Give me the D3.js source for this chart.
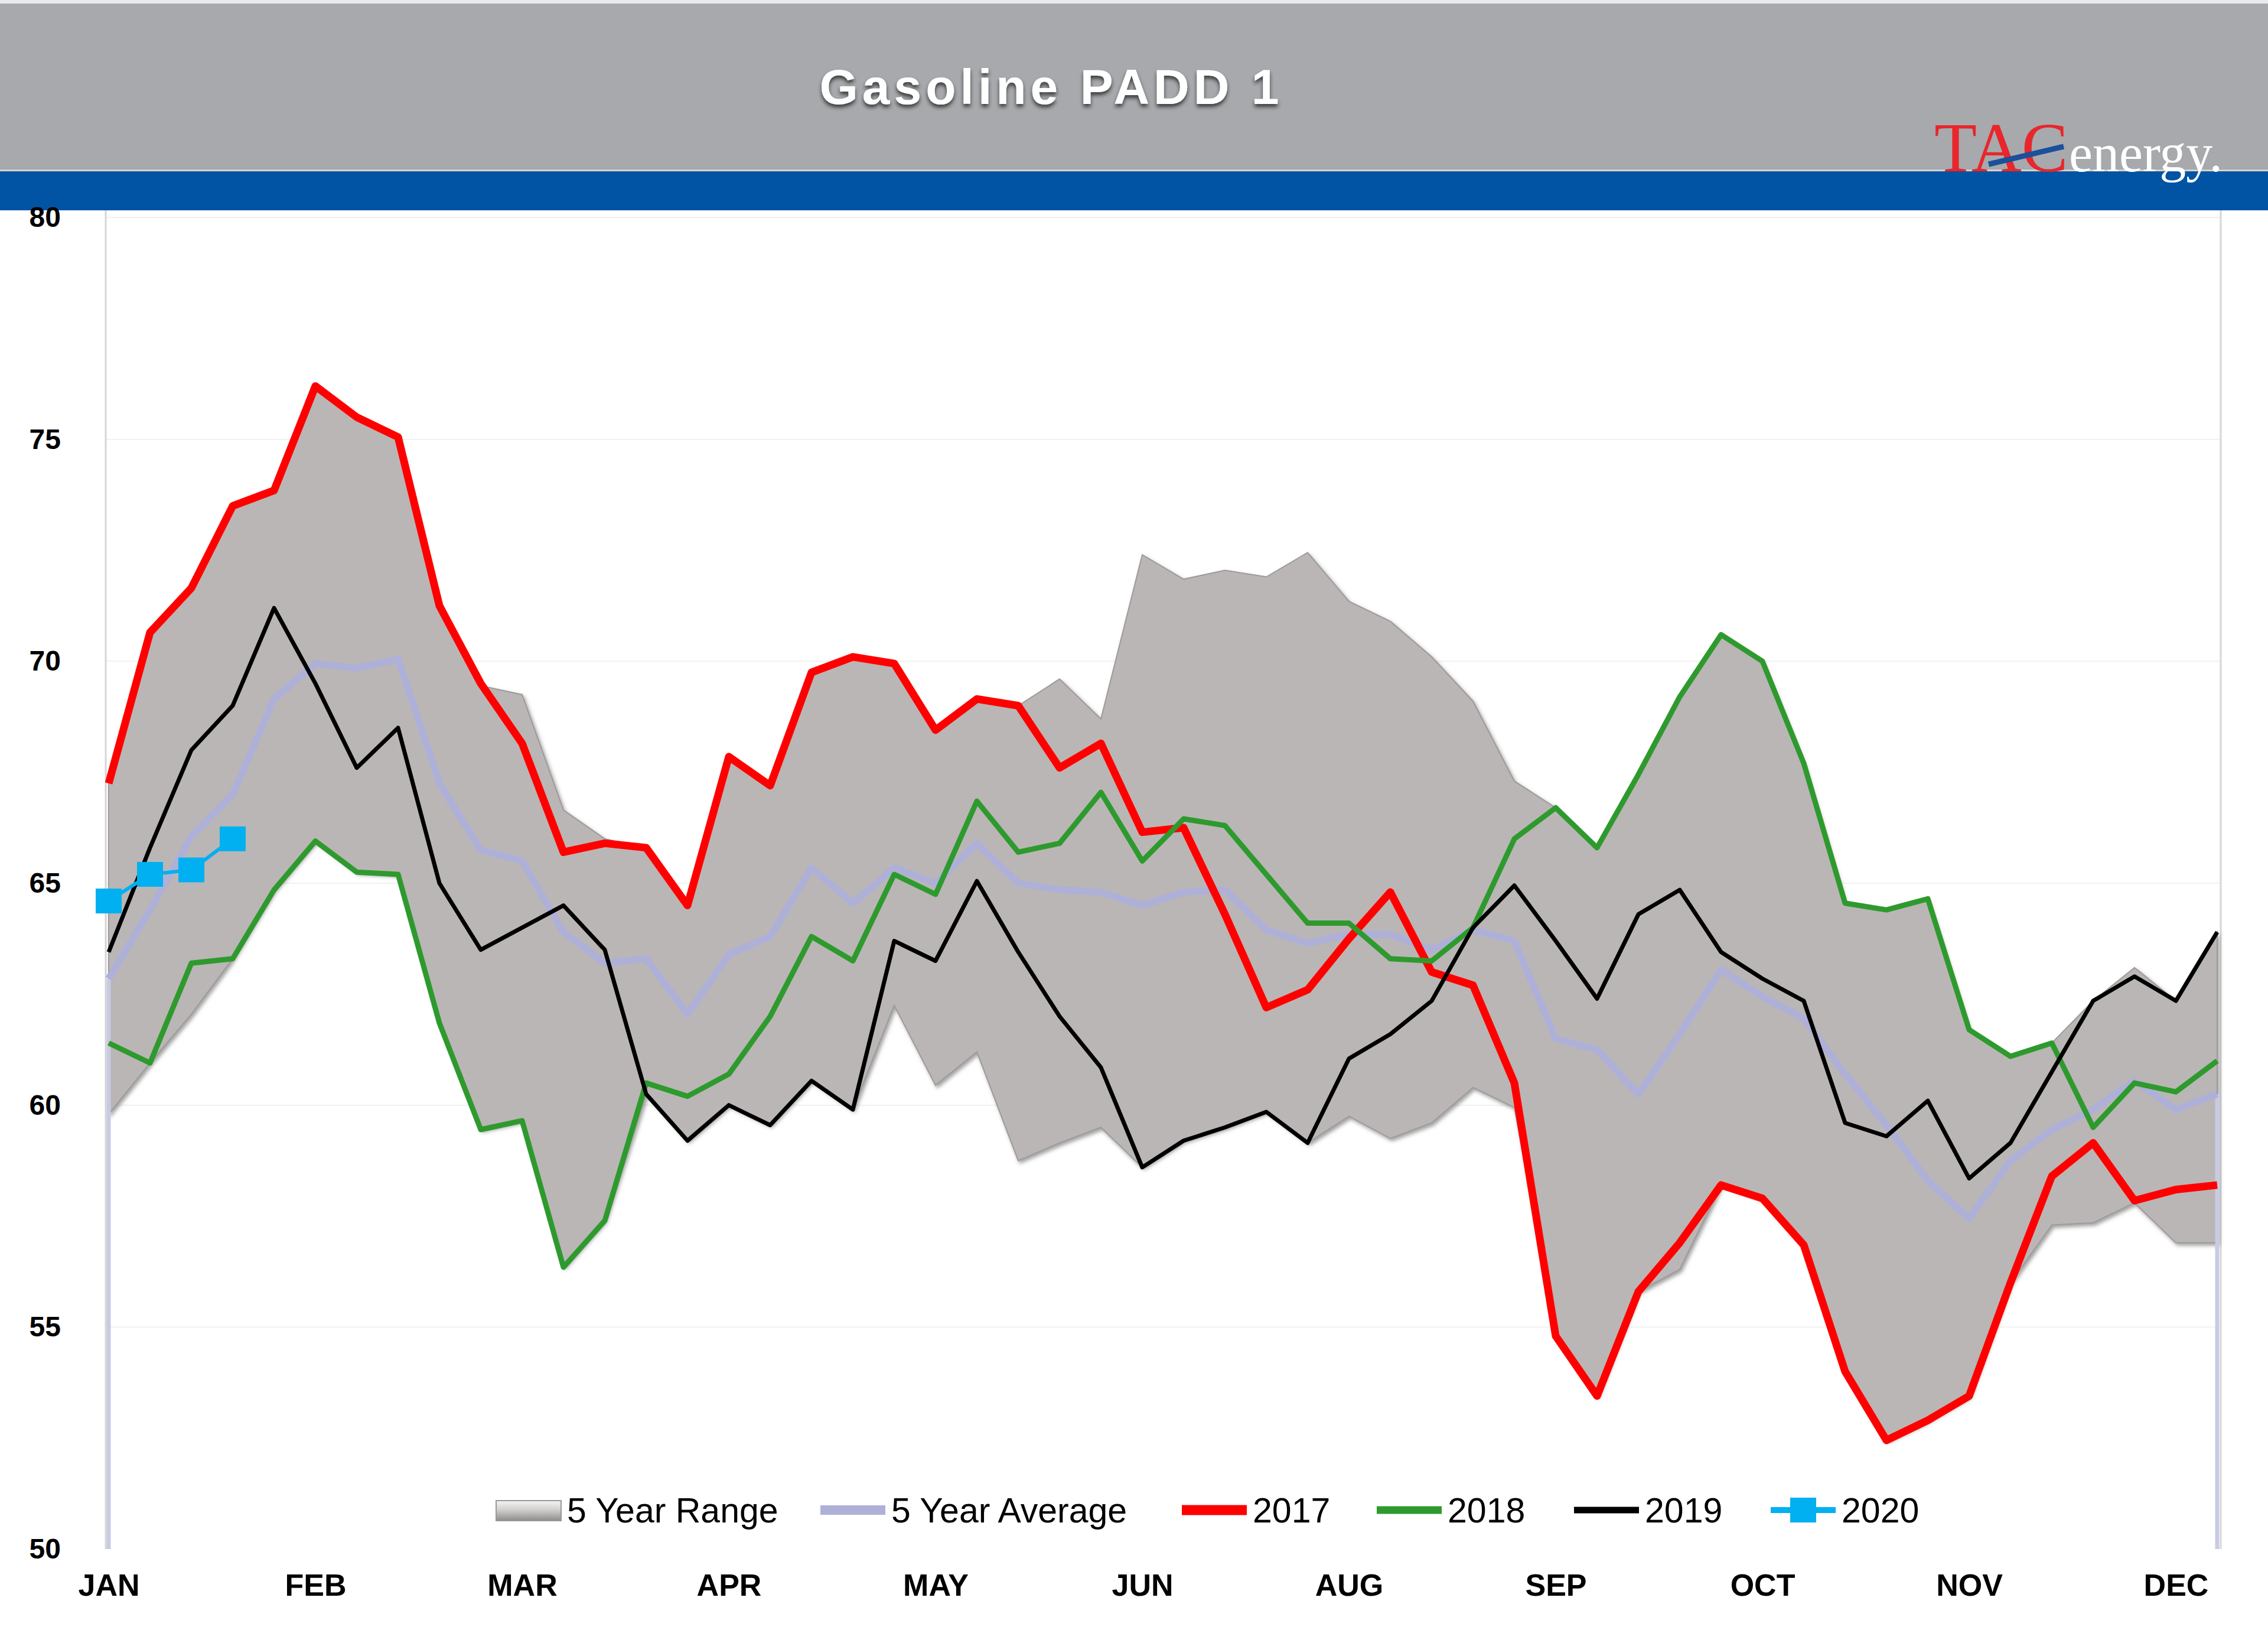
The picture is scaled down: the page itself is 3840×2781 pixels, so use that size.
<!DOCTYPE html>
<html>
<head>
<meta charset="utf-8">
<script src="https://cdn.jsdelivr.net/npm/d3@7"></script>
<style>
  body { margin: 0; background: #fff; }
  svg { display: block; }
</style>
</head>
<body>
<svg id="chart" width="3840" height="2781"></svg>
<script>
// weekly inventory values, 52 weeks from JAN to DEC
const monthLabels = ["JAN", "FEB", "MAR", "APR", "MAY", "JUN", "AUG", "SEP", "OCT", "NOV", "DEC"];
const monthWeeks = [0, 5, 10, 15, 20, 25, 30, 35, 40, 45, 50];
const yTicks = [50, 55, 60, 65, 70, 75, 80];

const rangeMax = [67.25, 70.65, 71.65, 73.5, 73.85, 76.2, 75.5, 75.05, 71.25, 69.45,
  69.25, 66.65, 66.0, 65.8, 64.5, 67.85, 67.2, 69.75, 70.1, 69.95,
  68.45, 69.15, 69.0, 69.6, 68.7, 72.4, 71.85, 72.05, 71.9, 72.45,
  71.35, 70.9, 70.1, 69.1, 67.3, 66.7, 65.8, 67.45, 69.2, 70.6,
  70.0, 67.7, 64.55, 64.4, 64.65, 61.7, 61.1, 61.4, 62.35, 63.1,
  62.35, 63.9];
const rangeMin = [59.8, 60.95, 62.05, 63.3, 64.85, 65.95, 65.25, 65.2, 61.85, 59.45,
  59.65, 56.35, 57.4, 60.25, 59.2, 60.0, 59.55, 60.55, 59.9, 62.25,
  60.45, 61.2, 58.75, 59.15, 59.5, 58.6, 59.2, 59.5, 59.85, 59.15,
  59.75, 59.25, 59.6, 60.4, 59.95, 54.8, 53.45, 55.8, 56.3, 58.2,
  57.9, 56.85, 54.0, 52.45, 52.9, 53.45, 56.0, 57.3, 57.35, 57.8,
  56.9, 56.9];
const avg5 = [62.85, 64.4, 66.05, 67.0, 69.15, 69.95, 69.85, 70.05, 67.25, 65.75,
  65.5, 63.9, 63.2, 63.3, 62.05, 63.4, 63.8, 65.35, 64.55, 65.35,
  65.0, 65.9, 65.0, 64.85, 64.8, 64.5, 64.8, 64.85, 63.95, 63.65,
  63.85, 63.85, 63.5, 63.95, 63.7, 61.5, 61.25, 60.25, 61.6, 63.05,
  62.45, 61.95, 60.7, 59.55, 58.3, 57.45, 58.75, 59.45, 59.9, 60.55,
  59.9, 60.25];
const y2017 = [67.25, 70.65, 71.65, 73.5, 73.85, 76.2, 75.5, 75.05, 71.25, 69.5,
  68.15, 65.7, 65.9, 65.8, 64.5, 67.85, 67.2, 69.75, 70.1, 69.95,
  68.45, 69.15, 69.0, 67.6, 68.15, 66.15, 66.25, 64.3, 62.2, 62.6,
  63.75, 64.8, 63.0, 62.7, 60.5, 54.8, 53.45, 55.8, 56.9, 58.2,
  57.9, 56.85, 54.0, 52.45, 52.9, 53.45, 56.0, 58.4, 59.15, 57.85,
  58.1, 58.2];
const y2018 = [61.4, 60.95, 63.2, 63.3, 64.85, 65.95, 65.25, 65.2, 61.85, 59.45,
  59.65, 56.35, 57.4, 60.5, 60.2, 60.7, 62.0, 63.8, 63.25, 65.2,
  64.75, 66.85, 65.7, 65.9, 67.05, 65.5, 66.45, 66.3, 65.2, 64.1,
  64.1, 63.3, 63.25, 64.0, 66.0, 66.7, 65.8, 67.45, 69.2, 70.6,
  70.0, 67.7, 64.55, 64.4, 64.65, 61.7, 61.1, 61.4, 59.5, 60.5,
  60.3, 61.0];
const y2019 = [63.45, 65.8, 68.0, 69.0, 71.2, 69.5, 67.6, 68.5, 65.0, 63.5,
  64.0, 64.5, 63.5, 60.25, 59.2, 60.0, 59.55, 60.55, 59.9, 63.7,
  63.25, 65.05, 63.45, 62.0, 60.85, 58.6, 59.2, 59.5, 59.85, 59.15,
  61.05, 61.6, 62.35, 64.0, 64.95, 63.7, 62.4, 64.3, 64.85, 63.45,
  62.85, 62.35, 59.6, 59.3, 60.1, 58.35, 59.15, 60.75, 62.35, 62.9,
  62.35, 63.9];
const y2020 = [64.6, 65.2, 65.3, 66.0];

const legendNames = ["5 Year Range", "5 Year Average", "2017", "2018", "2019", "2020"];

const svg = d3.select("#chart");

let defs = svg.append("defs");
let bevel = defs.append("filter").attr("id", "bevel")
  .attr("x", "-5%").attr("y", "-5%").attr("width", "110%").attr("height", "110%");
bevel.append("feDropShadow")
  .attr("dx", 3).attr("dy", 4).attr("stdDeviation", 3)
  .attr("flood-color", "#555").attr("flood-opacity", 0.55);
let titleShadow = defs.append("filter").attr("id", "titleShadow");
titleShadow.append("feDropShadow")
  .attr("dx", 0).attr("dy", 5).attr("stdDeviation", 3)
  .attr("flood-color", "#222").attr("flood-opacity", 0.8);
let swatchGrad = defs.append("linearGradient").attr("id", "swatchGrad")
  .attr("x1", 0).attr("y1", 0).attr("x2", 0).attr("y2", 1);
swatchGrad.append("stop").attr("offset", "0%").attr("stop-color", "#f4f4f4");
swatchGrad.append("stop").attr("offset", "45%").attr("stop-color", "#d2d0cf");
swatchGrad.append("stop").attr("offset", "100%").attr("stop-color", "#8f8d8c");

// header
svg.append("rect").attr("x", 0).attr("y", 0).attr("width", 3840).attr("height", 6).attr("fill", "#e9eaec");
svg.append("rect").attr("x", 0).attr("y", 6).attr("width", 3840).attr("height", 284).attr("fill", "#a7a9ac");
svg.append("rect").attr("x", 0).attr("y", 287).attr("width", 3840).attr("height", 3).attr("fill", "#d9d2cb");
svg.append("rect").attr("x", 0).attr("y", 290).attr("width", 3840).attr("height", 66).attr("fill", "#0154a3");

svg.append("text")
  .attr("x", 1780).attr("y", 176)
  .attr("text-anchor", "middle")
  .attr("font-family", "Liberation Sans, Arial, sans-serif")
  .attr("font-weight", "bold")
  .attr("font-size", 84)
  .attr("letter-spacing", 7)
  .attr("fill", "#fff")
  .attr("filter", "url(#titleShadow)")
  .text("Gasoline PADD 1");

// logo
svg.append("text")
  .attr("x", 3275).attr("y", 290)
  .attr("font-family", "Liberation Serif, Times New Roman, serif")
  .attr("font-size", 118)
  .attr("fill", "#e8262b")
  .text("TAC");
svg.append("line")
  .attr("x1", 3367).attr("y1", 278).attr("x2", 3494).attr("y2", 248)
  .attr("stroke", "#1c4f9c").attr("stroke-width", 9);
svg.append("text")
  .attr("x", 3503).attr("y", 290)
  .attr("font-family", "Liberation Serif, Times New Roman, serif")
  .attr("font-size", 90)
  .attr("fill", "#fff")
  .text("energy.");

// scales
const x = d3.scaleLinear().domain([0, 51]).range([184, 3754]);
const y = d3.scaleLinear().domain([50, 80]).range([2622, 368]);

const plot = svg.append("g");

// faint gridlines
plot.selectAll("line.grid")
  .data(yTicks.slice(1))
  .enter().append("line")
  .attr("class", "grid")
  .attr("x1", 179).attr("x2", 3760)
  .attr("y1", d => y(d)).attr("y2", d => y(d))
  .attr("stroke", "#f1f1f1").attr("stroke-width", 2);

// plot frame
plot.append("line").attr("x1", 179).attr("x2", 179).attr("y1", 356).attr("y2", 2622)
  .attr("stroke", "#d6d6d6").attr("stroke-width", 3);
plot.append("line").attr("x1", 3760).attr("x2", 3760).attr("y1", 356).attr("y2", 2622)
  .attr("stroke", "#d6d6d6").attr("stroke-width", 3);

// 5 year range
let weeks = d3.range(rangeMax.length);
let rangeArea = d3.area()
  .x(i => x(i))
  .y0(i => y(rangeMin[i]))
  .y1(i => y(rangeMax[i]));
plot.append("path")
  .attr("d", rangeArea(weeks))
  .attr("fill", "#bab6b5")
  .attr("stroke", "#9e9a99")
  .attr("stroke-width", 2)
  .attr("filter", "url(#bevel)");

// bottom axis line
plot.append("line").attr("x1", 179).attr("x2", 3760).attr("y1", 2622).attr("y2", 2622)
  .attr("stroke", "#c4c4c4").attr("stroke-width", 8).attr("filter", "url(#bevel)");

// 5 year average, with the edge drops down to the axis
plot.selectAll("line.avgEdge")
  .data([0, avg5.length - 1])
  .enter().append("line")
  .attr("class", "avgEdge")
  .attr("x1", i => x(i)).attr("x2", i => x(i))
  .attr("y1", i => y(avg5[i])).attr("y2", y(50))
  .attr("stroke", "#c9cae4").attr("stroke-width", 7);

let line = d3.line()
  .x((d, i) => x(i))
  .y(d => y(d));

plot.append("path").attr("d", line(avg5))
  .attr("fill", "none").attr("stroke", "#aeb0d8").attr("stroke-width", 12)
  .attr("stroke-linejoin", "round");
plot.append("path").attr("d", line(y2017))
  .attr("fill", "none").attr("stroke", "#ff0000").attr("stroke-width", 13)
  .attr("stroke-linejoin", "round");
plot.append("path").attr("d", line(y2018))
  .attr("fill", "none").attr("stroke", "#2e9a2e").attr("stroke-width", 9)
  .attr("stroke-linejoin", "round");
plot.append("path").attr("d", line(y2019))
  .attr("fill", "none").attr("stroke", "#000").attr("stroke-width", 7)
  .attr("stroke-linejoin", "round");
plot.append("path").attr("d", line(y2020))
  .attr("fill", "none").attr("stroke", "#00b0f0").attr("stroke-width", 6);
plot.selectAll("rect.m2020")
  .data(y2020)
  .enter().append("rect")
  .attr("class", "m2020")
  .attr("x", (d, i) => x(i) - 22).attr("y", d => y(d) - 21)
  .attr("width", 44).attr("height", 42)
  .attr("fill", "#00b0f0");

// axes
let yAxis = d3.axisLeft(y).tickValues(yTicks).tickSize(0).tickPadding(0);
svg.append("g")
  .attr("transform", "translate(103,0)")
  .call(yAxis)
  .call(g => g.select(".domain").remove())
  .selectAll("text")
  .attr("font-family", "Liberation Sans, Arial, sans-serif")
  .attr("font-weight", "bold")
  .attr("font-size", 48)
  .attr("fill", "#000");

let xAxis = d3.axisBottom(x).tickValues(monthWeeks)
  .tickFormat((d, i) => monthLabels[i])
  .tickSize(0).tickPadding(0);
svg.append("g")
  .attr("transform", "translate(0,2664)")
  .call(xAxis)
  .call(g => g.select(".domain").remove())
  .selectAll("text")
  .attr("font-family", "Liberation Sans, Arial, sans-serif")
  .attr("font-weight", "bold")
  .attr("font-size", 52)
  .attr("fill", "#000");

// legend, items placed where the reference puts them
const legendX = [840, 1389, 2001, 2331, 2665, 2998];
const legendColors = ["", "#aeb0d8", "#ff0000", "#2e9a2e", "#000", "#00b0f0"];
const legendWidths = [0, 12, 13, 9, 7, 6];
let legend = svg.append("g").attr("transform", "translate(0,2556)");
legendNames.forEach((name, k) => {
  let item = legend.append("g").attr("transform", `translate(${legendX[k]},0)`);
  if (k === 0) {
    item.append("rect").attr("x", 0).attr("y", -16).attr("width", 110).attr("height", 34)
      .attr("fill", "url(#swatchGrad)").attr("stroke", "#9a9898").attr("stroke-width", 2);
  } else {
    item.append("line").attr("x1", 0).attr("x2", 110).attr("y1", 0).attr("y2", 0)
      .attr("stroke", legendColors[k]).attr("stroke-width", legendWidths[k] + 4);
    if (k === 5) {
      item.append("rect").attr("x", 33).attr("y", -21).attr("width", 44).attr("height", 42)
        .attr("fill", "#00b0f0");
    }
  }
  item.append("text")
    .attr("x", 120).attr("y", 21)
    .attr("font-family", "Liberation Sans, Arial, sans-serif")
    .attr("font-size", 59)
    .attr("fill", "#000")
    .text(name);
});
</script>
</body>
</html>
